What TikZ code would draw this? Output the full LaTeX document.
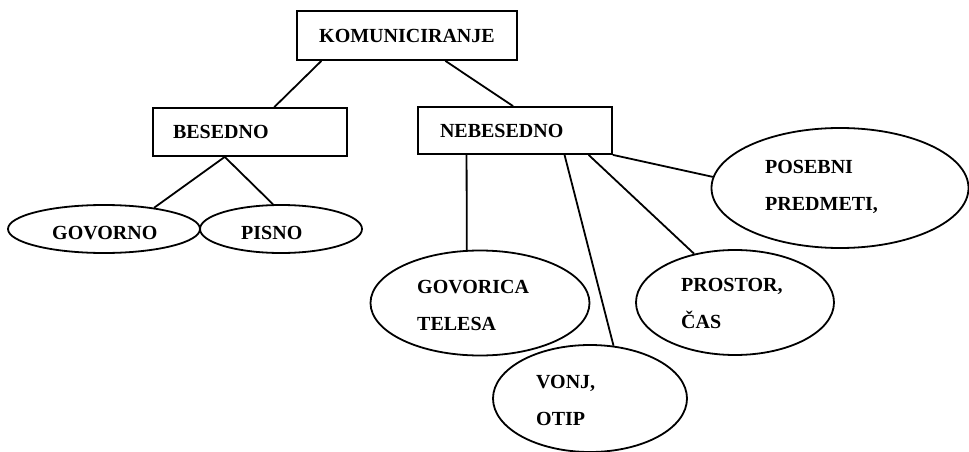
\documentclass[tikz,border=0pt]{standalone}
\usepackage{fontspec}
\setmainfont{Liberation Serif}
\usetikzlibrary{shapes.geometric,calc}
\begin{document}
\begin{tikzpicture}[x=1pt,y=-1pt,
  every node/.style={font=\bfseries\fontsize{20pt}{37pt}\selectfont},
  conn/.style={line width=1.8pt},
  boxnode/.style={draw,line width=1.8pt,rectangle,inner ysep=0pt},
  ell/.style={draw,line width=1.8pt,ellipse,inner sep=0pt},
  lbl/.style={anchor=base west,inner sep=0pt,align=left}]
\useasboundingbox (0,0) rectangle (969,452);
% boxes
\node[boxnode,minimum width=220pt,minimum height=49pt] (kom) at (407,35.5) {KOMUNICIRANJE};
\node[boxnode,minimum height=48pt,text width=154pt,inner xsep=20pt,align=left] (bes) at (250,132) {BESEDNO};
\node[boxnode,minimum height=47pt,text width=150pt,inner xsep=22pt,align=left] (neb) at (515,130.5) {NEBESEDNO};
% ellipses
\node[ell,minimum width=192pt,minimum height=48pt] (govorno) at (104,229) {};
\node[ell,minimum width=162pt,minimum height=48pt] (pisno) at (281,229) {};
\node[ell,minimum width=219pt,minimum height=105pt] (govorica) at (480,303) {};
\node[ell,minimum width=194pt,minimum height=107pt] (vonj) at (590,398.5) {};
\node[ell,minimum width=198pt,minimum height=105pt] (prostor) at (735,302.5) {};
\node[ell,minimum width=257pt,minimum height=120pt] (posebni) at (840,188) {};
% texts (base anchor = baseline of last line)
\node[lbl] (tgovorno) at (52,239) {GOVORNO};
\node[lbl] (tpisno) at (241,239) {PISNO};
\node[lbl] (tgovorica) at (417,330) {GOVORICA\\TELESA};
\node[lbl] (tprostor) at (681,328) {PROSTOR,\\ČAS};
\node[lbl] (tvonj) at (536,425) {VONJ,\\OTIP};
\node[lbl] (tposebni) at (765,210) {POSEBNI\\PREDMETI,};
% connectors
\draw[conn] ($(kom.south west)!0.114!(kom.south east)$) -- ($(bes.north west)!0.624!(bes.north east)$);
\draw[conn] ($(kom.south west)!0.673!(kom.south east)$) -- ($(neb.north west)!0.49!(neb.north east)$);
\draw[conn] ($(bes.south west)!0.371!(bes.south east)$) -- (govorno.23);
\draw[conn] ($(bes.south west)!0.371!(bes.south east)$) -- (pisno.108.5);
\draw[conn] ($(neb.south west)!0.2526!(neb.south east)$) -- (govorica.104.1);
\draw[conn] ($(neb.south west)!0.753!(neb.south east)$) -- (vonj.66.1);
\draw[conn] ($(neb.south west)!0.876!(neb.south east)$) -- (prostor.130);
\draw[conn] (neb.south east) -- (posebni.175);
\end{tikzpicture}
\end{document}
